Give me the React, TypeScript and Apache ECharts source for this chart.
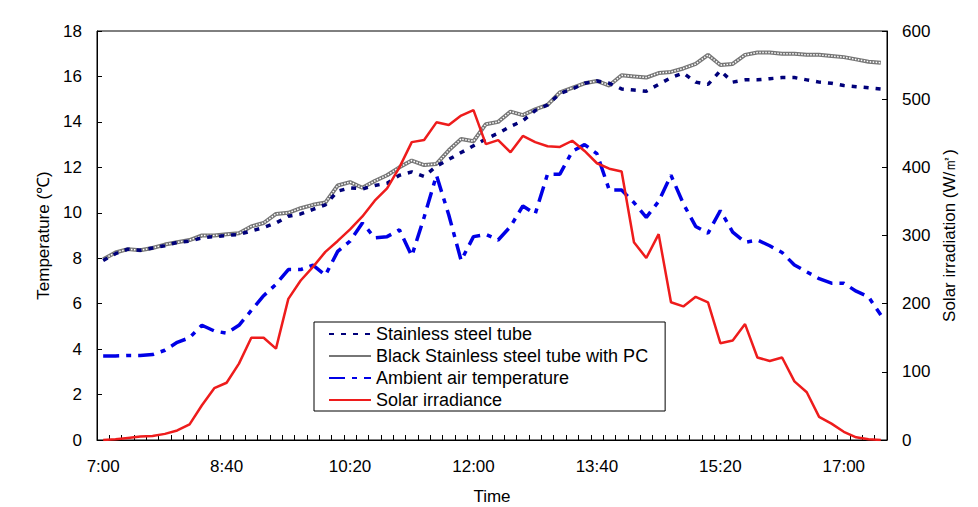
import React, { useEffect, useRef } from "react";
import * as echarts from "echarts";

const times = [
  "7:00", "7:10", "7:20", "7:30", "7:40", "7:50", "8:00", "8:10", "8:20", "8:30",
  "8:40", "8:50", "9:00", "9:10", "9:20", "9:30", "9:40", "9:50", "10:00", "10:10",
  "10:20", "10:30", "10:40", "10:50", "11:00", "11:10", "11:20", "11:30", "11:40", "11:50",
  "12:00", "12:10", "12:20", "12:30", "12:40", "12:50", "13:00", "13:10", "13:20", "13:30",
  "13:40", "13:50", "14:00", "14:10", "14:20", "14:30", "14:40", "14:50", "15:00", "15:10",
  "15:20", "15:30", "15:40", "15:50", "16:00", "16:10", "16:20", "16:30", "16:40", "16:50",
  "17:00", "17:10", "17:20", "17:30",
];

const stainless = [
  7.9, 8.2, 8.4, 8.35, 8.45, 8.55, 8.7, 8.75, 8.9, 8.95,
  9.0, 9.05, 9.2, 9.35, 9.55, 9.85, 9.95, 10.15, 10.35, 10.95,
  11.1, 11.05, 11.2, 11.3, 11.65, 11.8, 11.6, 12.05, 12.35, 12.65,
  12.95, 13.25, 13.5, 13.8, 14.05, 14.5, 14.75, 15.25, 15.45, 15.7,
  15.8, 15.7, 15.45, 15.4, 15.35, 15.65, 15.95, 16.15, 15.75, 15.65,
  16.25, 15.75, 15.85, 15.85, 15.9, 15.95, 15.95, 15.85, 15.75, 15.7,
  15.6, 15.55, 15.5, 15.45,
];

const blackPC = [
  7.95, 8.25, 8.4, 8.35, 8.45, 8.6, 8.7, 8.8, 9.0, 9.0,
  9.05, 9.1, 9.4, 9.55, 9.95, 10.0, 10.2, 10.35, 10.45, 11.2,
  11.35, 11.1, 11.4, 11.65, 12.0, 12.3, 12.1, 12.15, 12.75, 13.25,
  13.15, 13.9, 14.0, 14.45, 14.3, 14.55, 14.75, 15.3, 15.5, 15.7,
  15.8, 15.6, 16.05, 16.0, 15.95, 16.15, 16.2, 16.35, 16.55, 16.95,
  16.5, 16.55, 16.95, 17.05, 17.05, 17.0, 17.0, 16.95, 16.95, 16.9,
  16.85, 16.75, 16.65, 16.6,
];

const ambient = [
  3.7, 3.7, 3.72, 3.72, 3.76, 3.95, 4.3, 4.5, 5.05, 4.8,
  4.7, 5.05, 5.7, 6.35, 6.85, 7.5, 7.5, 7.7, 7.25, 8.3,
  8.75, 9.55, 8.9, 8.95, 9.25, 8.1, 9.8, 11.65, 9.9, 7.9,
  8.95, 9.05, 8.8, 9.4, 10.3, 9.95, 11.7, 11.7, 12.7, 13.0,
  12.6, 11.0, 11.0, 10.45, 9.8, 10.5, 11.65, 10.4, 9.4, 9.1,
  10.1, 9.15, 8.7, 8.8, 8.55, 8.25, 7.7, 7.4, 7.1, 6.9,
  6.9, 6.55, 6.3, 5.5,
];

const solar = [
  0, 1, 3, 5, 6, 9, 14, 23, 51, 76,
  84, 112, 150, 150, 134, 207, 234, 254, 276, 292,
  309, 328, 351, 369, 400, 437, 440, 466, 462, 476,
  484, 434, 440, 422, 446, 437, 431, 430, 439, 424,
  406, 398, 394, 290, 267, 302, 202, 196, 210, 202,
  142, 146, 170, 121, 116, 121, 86, 70, 34, 24,
  12, 4, 1, 0,
];

const tempTicks = { min: 0, max: 18, interval: 2 };
const solarTicks = { min: 0, max: 600, interval: 100 };

const FONT = "'Liberation Sans', Arial, sans-serif";

export default function App() {
  const ref = useRef<HTMLDivElement>(null);
  useEffect(() => {
    if (!ref.current) return;
    const chart = echarts.init(ref.current, null, { renderer: "svg" });
    const axisCommon = {
      axisLine: { show: true, lineStyle: { color: "#000", width: 1 } },
      axisTick: { show: true, inside: true, length: 5, lineStyle: { color: "#000" } },
      splitLine: { show: false },
      axisLabel: { color: "#000", fontSize: 17, fontFamily: FONT, margin: 15 },
      nameLocation: "middle" as const,
      nameTextStyle: { color: "#000", fontSize: 17, fontFamily: FONT },
    };
    chart.setOption({
      animation: false,
      backgroundColor: "#fff",
      textStyle: { fontFamily: FONT },
      grid: {
        left: 97,
        right: 91,
        top: 31,
        bottom: 67,
        show: true,
        borderColor: "#000",
        borderWidth: 1,
        backgroundColor: "transparent",
        containLabel: false,
        outerBoundsMode: "none",
      },
      legend: {
        orient: "vertical",
        left: 314,
        top: 322,
        padding: [1, 17, 0, 14],
        itemGap: 0,
        itemWidth: 42,
        itemHeight: 14,
        borderColor: "#000",
        borderWidth: 1,
        backgroundColor: "#fff",
        itemStyle: { opacity: 0 },
        textStyle: { fontSize: 18, lineHeight: 22, color: "#000", fontFamily: FONT },
        data: [
          "Stainless steel tube",
          "Black Stainless steel tube with PC",
          "Ambient air temperature",
          "Solar irradiance",
        ],
      },
      xAxis: {
        type: "category",
        data: times,
        boundaryGap: true,
        ...axisCommon,
        axisTick: { show: true, inside: true, length: 5, interval: 0, lineStyle: { color: "#000" } },
        axisLabel: { color: "#000", fontSize: 17, fontFamily: FONT, margin: 18, interval: 9 },
        name: "Time",
        nameGap: 48,
      },
      yAxis: [
        {
          type: "value",
          ...tempTicks,
          ...axisCommon,
          name: "Temperature (℃)",
          nameGap: 37,
          nameRotate: 90,
        },
        {
          type: "value",
          position: "right",
          ...solarTicks,
          ...axisCommon,
          name: "Solar irradiation (W/㎡)",
          nameGap: 45,
          nameRotate: 90,
        },
      ],
      series: [
        {
          name: "Black Stainless steel tube with PC",
          type: "line",
          data: blackPC,
          symbol: "none",
          z: 2,
          lineStyle: { color: "#767676", width: 4 },
          itemStyle: { color: "#767676" },
        },
        {
          name: "_texture",
          type: "line",
          data: blackPC,
          symbol: "none",
          z: 3,
          silent: true,
          lineStyle: { color: "#fff", width: 1.5, type: [1.5, 1.5] },
        },
        {
          name: "Stainless steel tube",
          type: "line",
          data: stainless,
          symbol: "none",
          z: 4,
          lineStyle: { color: "#00007a", width: 3.5, type: [5, 7] },
          itemStyle: { color: "#00007a" },
        },
        {
          name: "Ambient air temperature",
          type: "line",
          data: ambient,
          symbol: "none",
          z: 5,
          lineStyle: { color: "#0000e6", width: 3.5, type: [16, 7, 5, 7] },
          itemStyle: { color: "#0000e6" },
        },
        {
          name: "Solar irradiance",
          type: "line",
          yAxisIndex: 1,
          data: solar,
          symbol: "none",
          z: 6,
          lineStyle: { color: "#ee1c1c", width: 2.5 },
          itemStyle: { color: "#ee1c1c" },
        },
      ],
    });
    return () => chart.dispose();
  }, []);
  return (
    <div
      ref={ref}
      style={{ position: "absolute", left: 0, top: 0, width: 978, height: 507, background: "#fff" }}
    />
  );
}
